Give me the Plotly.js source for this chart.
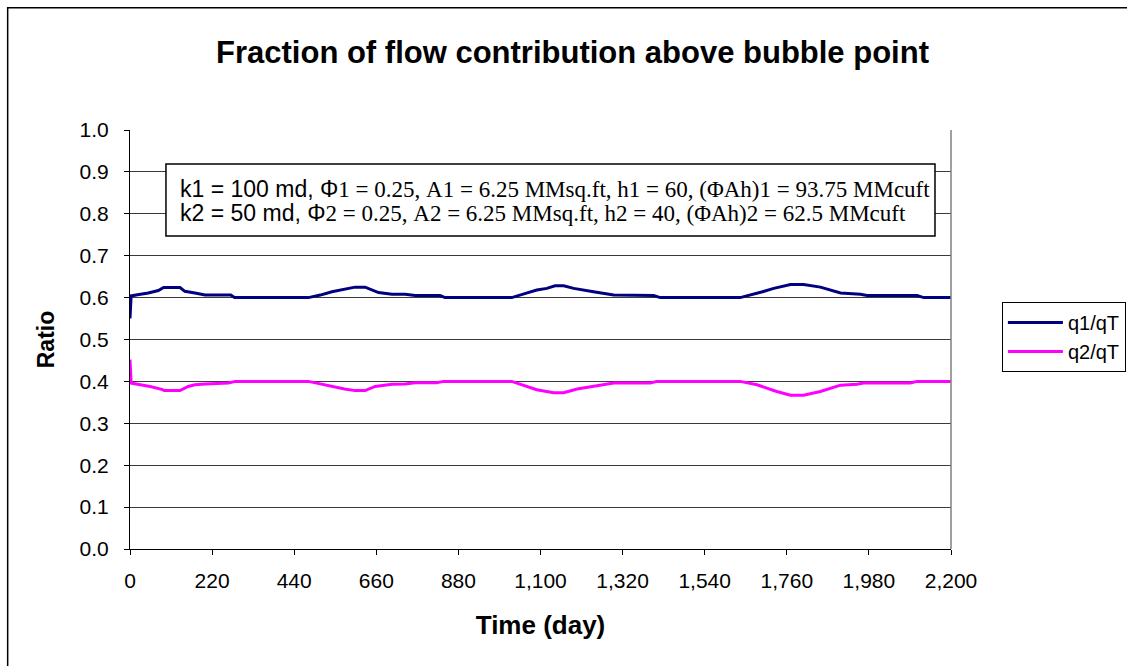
<!DOCTYPE html>
<html>
<head>
<meta charset="utf-8">
<script src="https://cdn.plot.ly/plotly-3.0.1.min.js"></script>
<style>html,body{margin:0;padding:0;background:#fff;}#chart{width:1127px;height:666px;}</style>
</head>
<body>
<div id="chart"></div>
<script>
// Time (day) and flow-fraction values
var time1 = [0, 3, 20, 49, 76, 90, 134, 147, 174, 201, 270, 280, 478, 510, 541, 575, 603, 630, 666, 702, 737, 764, 831, 844, 1023, 1060, 1090, 1117, 1139, 1162, 1189, 1242, 1296, 1403, 1421, 1635, 1662, 1695, 1725, 1770, 1805, 1850, 1904, 1957, 1975, 2109, 2127, 2200];
var q1qT = [0.55, 0.604, 0.607, 0.611, 0.617, 0.624, 0.624, 0.615, 0.611, 0.606, 0.606, 0.600, 0.600, 0.606, 0.614, 0.620, 0.625, 0.625, 0.612, 0.608, 0.608, 0.605, 0.605, 0.600, 0.600, 0.610, 0.618, 0.622, 0.628, 0.628, 0.622, 0.614, 0.606, 0.605, 0.600, 0.600, 0.606, 0.614, 0.622, 0.631, 0.631, 0.625, 0.611, 0.608, 0.605, 0.605, 0.600, 0.600];

var time2 = [0, 3, 20, 54, 85, 92, 134, 156, 174, 201, 264, 282, 478, 510, 541, 575, 603, 630, 657, 702, 737, 764, 822, 840, 1023, 1060, 1090, 1135, 1162, 1198, 1250, 1296, 1394, 1412, 1635, 1680, 1733, 1770, 1805, 1850, 1904, 1948, 1966, 2091, 2109, 2200];
var q2qT = [0.452, 0.396, 0.393, 0.388, 0.381, 0.378, 0.378, 0.388, 0.392, 0.394, 0.396, 0.400, 0.400, 0.394, 0.387, 0.382, 0.378, 0.378, 0.388, 0.393, 0.394, 0.397, 0.397, 0.400, 0.400, 0.389, 0.380, 0.373, 0.373, 0.382, 0.390, 0.396, 0.396, 0.400, 0.400, 0.392, 0.376, 0.367, 0.367, 0.376, 0.391, 0.393, 0.396, 0.396, 0.400, 0.400];

var seriesNames = ['q1/qT', 'q2/qT'];
var xTicks = [0, 220, 440, 660, 880, 1100, 1320, 1540, 1760, 1980, 2200];
var yTicks = [0, 0.1, 0.2, 0.3, 0.4, 0.5, 0.6, 0.7, 0.8, 0.9, 1.0];

var chartTitle = 'Fraction of flow contribution above bubble point';
var xTitle = 'Time (day)';
var yTitle = 'Ratio';
var serif = "'Liberation Serif', 'Times New Roman', serif";
var noteLine1 = 'k1 = 100 md, \u03A6<span style="font-family:' + serif + '">1 = 0.25, A1 = 6.25 MMsq.ft, h1 = 60, (\u03A6Ah)1 = 93.75 MMcuft</span>';
var noteLine2 = 'k2 = 50 md, \u03A6<span style="font-family:' + serif + '">2 = 0.25, A2 = 6.25 MMsq.ft, h2 = 40, (\u03A6Ah)2 = 62.5 MMcuft</span>';

var font = "Arial, 'Liberation Sans', sans-serif";

var traces = [
  {x: time1, y: q1qT, name: seriesNames[0], type: 'scatter', mode: 'lines',
   line: {color: '#000080', width: 3}},
  {x: time2, y: q2qT, name: seriesNames[1], type: 'scatter', mode: 'lines',
   line: {color: '#FF00FF', width: 3}}
];

var layout = {
  width: 1127, height: 666,
  margin: {l: 130, r: 176, t: 130, b: 117},
  paper_bgcolor: '#ffffff', plot_bgcolor: '#ffffff',
  font: {family: font, color: '#000', size: 20},
  title: {text: '<b>' + chartTitle + '</b>', font: {family: font, size: 31, color: '#000'},
          xref: 'container', yref: 'container', x: 0.508, xanchor: 'center', y: 0.922, yanchor: 'middle'},
  showlegend: true,
  legend: {xref: 'container', yref: 'container', x: 0.889, xanchor: 'left', y: 0.5465, yanchor: 'top',
           bordercolor: '#000', borderwidth: 1,
           bgcolor: '#fff', font: {family: font, size: 20, color: '#000'}, itemwidth: 55, tracegroupgap: 0},
  xaxis: {
    range: [0, 2200], tickvals: xTicks, tickformat: ',d',
    showgrid: false, zeroline: false, showline: true, linecolor: '#000', linewidth: 1,
    ticks: 'outside', ticklen: 5, tickcolor: '#000', ticklabelstandoff: 8,
    tickfont: {family: font, size: 21, color: '#000'},
    title: {text: '<b>' + xTitle + '</b>', font: {family: font, size: 26, color: '#000'}, standoff: 24}
  },
  yaxis: {
    range: [0, 1.0], tickvals: yTicks, tickformat: '.1f',
    showgrid: true, gridcolor: '#3a3a3a', gridwidth: 1, zeroline: false,
    showline: true, linecolor: '#000', linewidth: 1,
    ticks: 'outside', ticklen: 5, tickcolor: '#000', ticklabelstandoff: 11,
    tickfont: {family: font, size: 21, color: '#000'},
    title: {text: '<b>' + yTitle + '</b>', font: {family: font, size: 23, color: '#000'}, standoff: 18}
  },
  shapes: [
    {type: 'line', xref: 'paper', yref: 'paper', x0: 1, x1: 1, y0: 0, y1: 1,
     line: {color: '#808080', width: 1.5}},
    {type: 'rect', xref: 'paper', yref: 'paper', x0: -0.149, x1: 1.4, y0: -0.4, y1: 1.292,
     line: {color: '#000', width: 1.5}, fillcolor: 'rgba(0,0,0,0)', layer: 'below'},
    {type: 'rect', xref: 'paper', yref: 'paper', x0: 0.0438, x1: 0.9805, y0: 0.747, y1: 0.919,
     line: {color: '#000', width: 1.5}, fillcolor: '#ffffff', layer: 'above'}
  ],
  annotations: [
    {xref: 'paper', yref: 'paper', x: 0.0585, xanchor: 'left', y: 0.859, yanchor: 'middle',
     text: noteLine1, showarrow: false, align: 'left',
     font: {family: font, size: 23, color: '#000'}},
    {xref: 'paper', yref: 'paper', x: 0.0585, xanchor: 'left', y: 0.802, yanchor: 'middle',
     text: noteLine2, showarrow: false, align: 'left',
     font: {family: font, size: 23, color: '#000'}}
  ]
};

Plotly.newPlot('chart', traces, layout, {displayModeBar: false, staticPlot: true});
</script>
</body>
</html>
